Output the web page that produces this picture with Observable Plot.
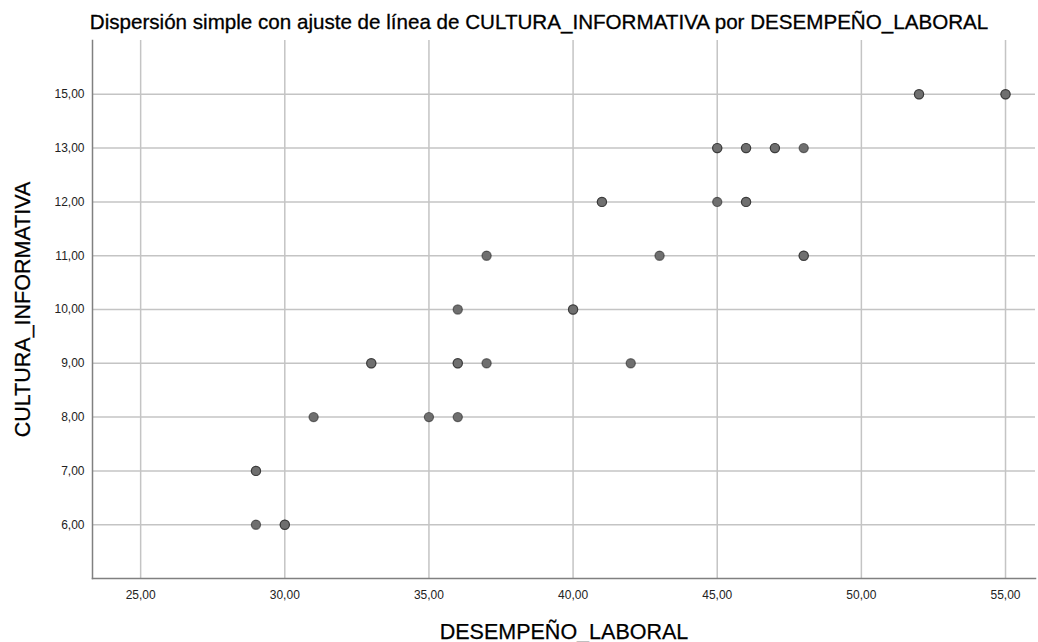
<!DOCTYPE html>
<html>
<head>
<meta charset="utf-8">
<script src="https://cdn.jsdelivr.net/npm/d3@7"></script>
<script src="https://cdn.jsdelivr.net/npm/@observablehq/plot@0.6"></script>
<style>
  body { margin: 0; background: #fff; font-family: "Liberation Sans", Arial, sans-serif; }
  #wrap { position: relative; width: 1038px; height: 642px; }
  #title { position: absolute; left: 0; top: 10px; width: 1078px; text-align: center; font-size: 20.6px; color: #000; -webkit-text-stroke: 0.3px #000; white-space: nowrap; }
</style>
</head>
<body>
<div id="wrap">
  <div id="chart"></div>
  <div id="title">Dispersión simple con ajuste de línea de CULTURA_INFORMATIVA por DESEMPEÑO_LABORAL</div>
</div>
<script>
// DESEMPEÑO_LABORAL (x) and CULTURA_INFORMATIVA (y); repeated pairs are overlapping cases
const desempeno = [52,52,55,55, 45,45,46,46,47,47,48, 41,41,45,46,46, 37,43,48,48, 36,40,40, 33,33,36,36,37,42, 31,35,36, 29,29, 29,30,30];
const cultura   = [15,15,15,15, 13,13,13,13,13,13,13, 12,12,12,12,12, 11,11,11,11, 10,10,10,  9, 9, 9, 9, 9, 9,  8, 8, 8,  7, 7,  6, 6, 6];
const xTicks = [25,30,35,40,45,50,55];
// the reference's vertical axis shows these values at equal spacing
const yTicks = [6,7,8,9,10,11,12,13,15];

const data = desempeno.map((d, i) => ({x: d, y: cultura[i]}));
const fmt = d => d3.format(".2f")(d).replace(".", ",");

const chart = Plot.plot({
  width: 1038,
  height: 642,
  marginLeft: 92,
  marginTop: 40,
  marginRight: 3,
  marginBottom: 64,
  style: {fontFamily: "Liberation Sans, Arial, sans-serif", fontSize: "12px", color: "#222", background: "#fff"},
  x: {domain: [23.33, 56.04]},
  y: {type: "point", domain: yTicks.slice().reverse(), padding: 1, round: false},
  marks: [
    Plot.gridX(xTicks, {stroke: "#c4c4c4", strokeOpacity: 1, strokeWidth: 1.5}),
    Plot.gridY(yTicks, {stroke: "#c4c4c4", strokeOpacity: 1, strokeWidth: 1.5}),
    Plot.axisX(xTicks, {tickSize: 0, tickPadding: 12, tickFormat: fmt, fontSize: 12,
      label: "DESEMPEÑO_LABORAL", labelAnchor: "center", labelArrow: "none", labelOffset: 60}),
    Plot.axisY(yTicks, {tickSize: 0, tickPadding: 8, tickFormat: fmt, fontSize: 12,
      label: "CULTURA_INFORMATIVA", labelAnchor: "center", labelArrow: "none", labelOffset: 78}),
    Plot.frame({anchor: "left", stroke: "#808080", strokeWidth: 1.5}),
    Plot.frame({anchor: "bottom", stroke: "#808080", strokeWidth: 1.5}),
    Plot.dot(data, {x: "x", y: "y", r: 4.6, fill: "#6f6f6f", stroke: "#1a1a1a", strokeOpacity: 0.55, strokeWidth: 1.2})
  ]
});
document.getElementById("chart").appendChild(chart);
// enlarge axis titles
chart.querySelectorAll("g[aria-label='x-axis label'] text, g[aria-label='y-axis label'] text").forEach(t => {
  t.setAttribute("font-size", "21.5px");
  t.style.fontSize = "21.5px";
  t.setAttribute("fill", "#000");
  t.style.stroke = "#000";
  t.style.strokeWidth = "0.25px";
});
</script>
</body>
</html>
